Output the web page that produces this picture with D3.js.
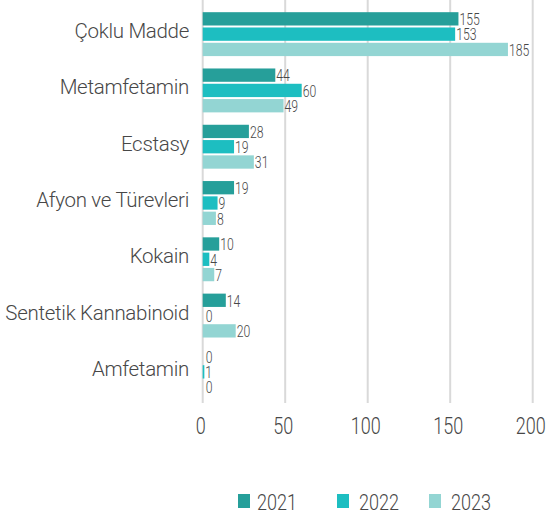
<!DOCTYPE html>
<html>
<head>
<meta charset="utf-8">
<script src="https://cdn.jsdelivr.net/npm/d3@7/dist/d3.min.js"></script>
<style>
  html, body { margin: 0; padding: 0; background: #fff; }
  svg { display: block; font-family: Roboto, "Noto Sans", sans-serif; }
</style>
</head>
<body>
<svg id="chart" width="549" height="520"></svg>
<script>
// Cases by substance type, per year
const categories = ["Çoklu Madde", "Metamfetamin", "Ecstasy", "Afyon ve Türevleri",
                    "Kokain", "Sentetik Kannabinoid", "Amfetamin"];
const years = ["2021", "2022", "2023"];
const values2021 = [155, 44, 28, 19, 10, 14, 0];
const values2022 = [153, 60, 19, 9, 4, 0, 1];
const values2023 = [185, 49, 31, 8, 7, 20, 0];
const xTicks = [0, 50, 100, 150, 200];

const seriesValues = [values2021, values2022, values2023];
const colors = ["#269f9a", "#1dbec1", "#93d5d3"];
const textColor = "#474747";

const svg = d3.select("#chart");

const x = d3.scaleLinear().domain([0, 200]).range([202.7, 532.7]);
const y = d3.scaleBand().domain(categories).range([6, 400])
  .paddingInner(0.22).paddingOuter(0.11);
const ySub = d3.scaleBand().domain(years).range([0, y.bandwidth()])
  .paddingInner(0.13).paddingOuter(0);
const color = d3.scaleOrdinal().domain(years).range(colors);

// Vertical gridlines
svg.append("g")
  .selectAll("line")
  .data(xTicks)
  .join("line")
  .attr("x1", d => x(d)).attr("x2", d => x(d))
  .attr("y1", 0).attr("y2", 403)
  .attr("stroke", "#d9d9d9")
  .attr("stroke-width", 2);

// Bottom axis labels (narrow digits)
const axis = d3.axisBottom(x).tickValues(xTicks).tickSize(0).tickPadding(0);
const axisG = svg.append("g").attr("transform", "translate(0,434)").call(axis);
axisG.select(".domain").remove();
axisG.selectAll(".tick text")
  .attr("y", 0).attr("dy", 0)
  .attr("font-size", 24)
  .attr("font-weight", 300)
  .attr("font-family", "Roboto, sans-serif")
  .attr("fill", textColor);
axisG.selectAll(".tick").each(function (d) {
  d3.select(this).attr("transform", `translate(${x(d) - 2},0)`);
  d3.select(this).select("text").attr("transform", "scale(0.75,1)");
});

// Category labels
svg.append("g")
  .selectAll("text")
  .data(categories)
  .join("text")
  .attr("x", 189)
  .attr("y", d => y(d) + y.bandwidth() / 2 - 3)
  .attr("dominant-baseline", "central")
  .attr("text-anchor", "end")
  .attr("font-size", 20.5)
  .attr("font-weight", 300)
  .attr("letter-spacing", -0.3)
  .attr("fill", textColor)
  .text(d => d);

// Bars and value labels
const rows = [];
categories.forEach((c, i) => {
  years.forEach((yr, j) => rows.push({ cat: c, year: yr, value: seriesValues[j][i] }));
});

const barG = svg.append("g");
barG.selectAll("rect")
  .data(rows)
  .join("rect")
  .attr("x", x(0))
  .attr("y", d => y(d.cat) + ySub(d.year))
  .attr("width", d => x(d.value) - x(0))
  .attr("height", ySub.bandwidth())
  .attr("fill", d => color(d.year));

barG.selectAll("g.val")
  .data(rows)
  .join("g")
  .attr("class", "val")
  .attr("transform", d => `translate(${x(d.value) + (d.value === 0 ? 3 : 1)},${y(d.cat) + ySub(d.year) + ySub.bandwidth() / 2 + 0.5})`)
  .append("text")
  .attr("transform", "scale(0.72,1)")
  .attr("dominant-baseline", "central")
  .attr("font-size", 17)
  .attr("font-weight", 300)
  .attr("fill", textColor)
  .text(d => d.value);

// Legend
const legendX = [238, 337, 429];
const legend = svg.append("g")
  .selectAll("g")
  .data(years)
  .join("g")
  .attr("transform", (d, i) => `translate(${legendX[i]},0)`);
legend.append("rect")
  .attr("x", 0).attr("y", 494)
  .attr("width", 12).attr("height", 14)
  .attr("fill", d => color(d));
legend.append("text")
  .attr("transform", (d, i) => `translate(${i === 0 ? 19 : 22},510) scale(0.82,1)`)
  .attr("font-size", 22)
  .attr("font-weight", 300)
  .attr("fill", textColor)
  .text(d => d);
</script>
</body>
</html>
